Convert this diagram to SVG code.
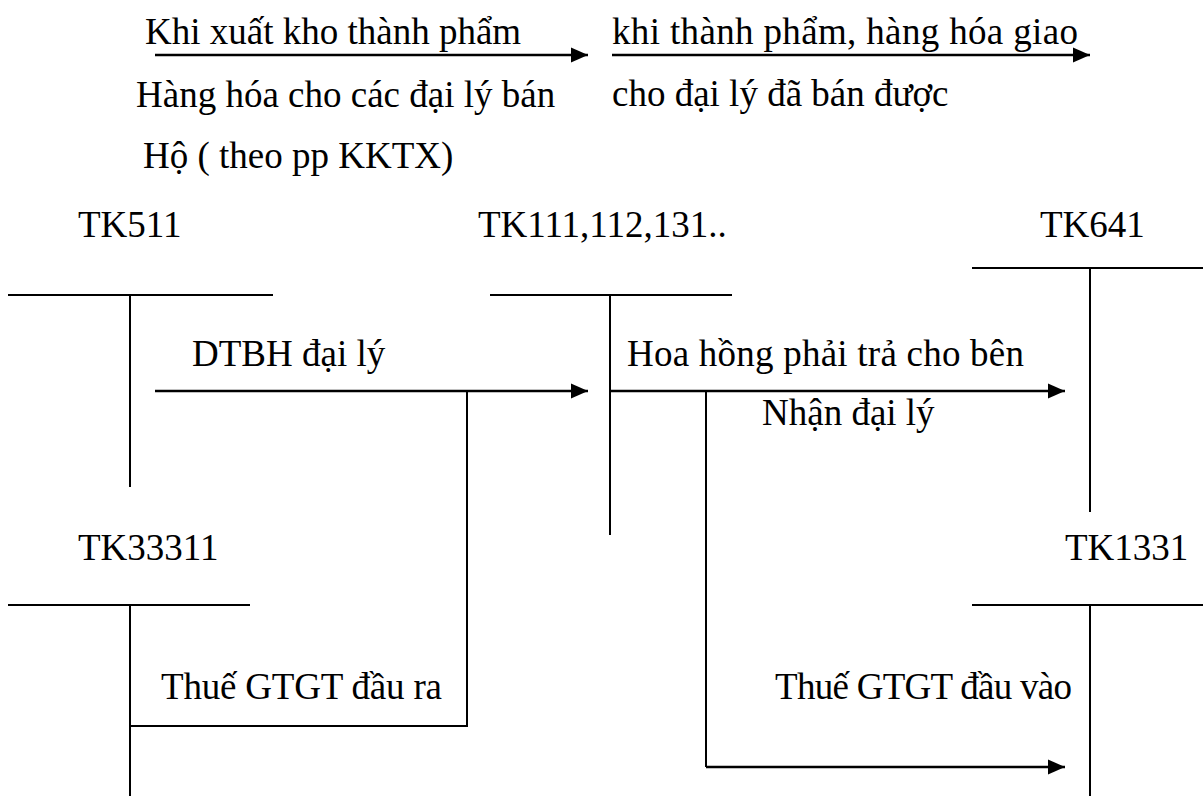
<svg xmlns="http://www.w3.org/2000/svg" width="1203" height="796" viewBox="0 0 1203 796">
  <style>
    text { font-family: "Liberation Serif", "Times New Roman", serif; font-size: 37px; fill: #000; }
    .t { stroke: #000; stroke-width: 2; fill: none; }
    .c { stroke: #000; stroke-width: 2.5; fill: none; }
  </style>
  <defs>
    <marker id="arrow" markerUnits="userSpaceOnUse" markerWidth="18" markerHeight="16" refX="17" refY="8" orient="auto">
      <path d="M0,0.5 L17,8 L0,15.5 Z" fill="#000"/>
    </marker>
  </defs>
  <rect width="1203" height="796" fill="#fff"/>

  <!-- heading notes -->
  <g id="note-left">
    <text x="145" y="44">Khi xuất kho thành phẩm</text>
    <text x="136" y="107">Hàng hóa cho các đại lý bán</text>
    <text x="143" y="168">Hộ ( theo pp KKTX)</text>
  </g>
  <g id="note-right">
    <text x="612" y="44" textLength="466">khi thành phẩm, hàng hóa giao</text>
    <text x="612" y="106">cho đại lý đã bán được</text>
  </g>

  <!-- T accounts -->
  <g id="tk511">
    <text x="78" y="237">TK511</text>
    <path class="t" d="M8,295 H273 M130,295 V487"/>
  </g>
  <g id="tk111">
    <text x="478" y="237">TK111,112,131..</text>
    <path class="t" d="M490,295 H732 M610,295 V535"/>
  </g>
  <g id="tk641">
    <text x="1040" y="237">TK641</text>
    <path class="t" d="M972,268 H1203 M1090,268 V512"/>
  </g>
  <g id="tk33311">
    <text x="78" y="560">TK33311</text>
    <path class="t" d="M8,605 H250 M130,605 V796"/>
  </g>
  <g id="tk1331">
    <text x="1065" y="560">TK1331</text>
    <path class="t" d="M972,605 H1203 M1090,605 V796"/>
  </g>

  <!-- connectors -->
  <g id="connectors">
    <path class="c" d="M155,55 H588" marker-end="url(#arrow)"/>
    <path class="c" d="M612,55 H1090" marker-end="url(#arrow)"/>
    <path class="c" d="M155,391 H588" marker-end="url(#arrow)"/>
    <path class="t" d="M130,726 H467 V391"/>
    <path class="c" d="M610,391 H1065" marker-end="url(#arrow)"/>
    <path class="t" d="M706,391 V767"/>
    <path class="c" d="M706,767 H1065" marker-end="url(#arrow)"/>
  </g>

  <!-- connector labels -->
  <g id="labels">
    <text x="192" y="366">DTBH đại lý</text>
    <text x="627" y="366" textLength="397">Hoa hồng phải trả cho bên</text>
    <text x="762" y="425">Nhận đại lý</text>
    <text x="161" y="699" textLength="281">Thuế GTGT đầu ra</text>
    <text x="775" y="699" textLength="297">Thuế GTGT đầu vào</text>
  </g>
</svg>
